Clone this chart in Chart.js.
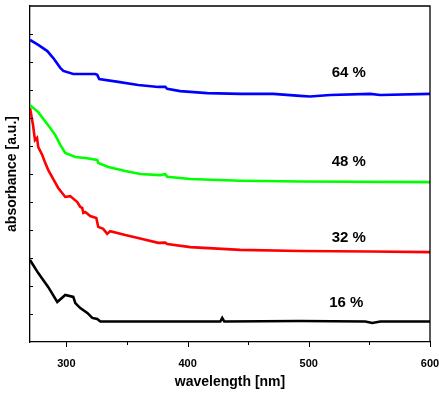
<!DOCTYPE html>
<html>
<head>
<meta charset="utf-8">
<script src="https://cdn.jsdelivr.net/npm/chart.js@4"></script>
<style>
  html, body { margin: 0; padding: 0; background: #fff; }
  canvas { display: block; }
</style>
</head>
<body>
<canvas id="myChart" width="439" height="395"></canvas>
<script>
// absorbance spectra, one array pair per sample
var nm64 = [270, 276.8, 284.3, 289.2, 295, 297.5, 305.7, 315.6, 323.8, 325.5, 327.1, 342.8, 359.3, 375.8, 381.6, 383.2, 393.9, 416.2, 443.4, 470.6, 492.9, 501, 517.7, 550.7, 559, 600];
var abs64 = [10.79, 10.61, 10.39, 10.14, 9.79, 9.68, 9.57, 9.57, 9.57, 9.54, 9.39, 9.29, 9.18, 9.11, 9.11, 9.04, 8.96, 8.89, 8.86, 8.86, 8.79, 8.77, 8.82, 8.86, 8.82, 8.86];

var nm48 = [270, 276.8, 286.7, 290.9, 295, 299.1, 307.4, 315.6, 325.5, 326.3, 334.6, 348.6, 361, 377.4, 381.6, 383.2, 402.2, 443.4, 492.9, 600];
var abs48 = [8.46, 8.21, 7.64, 7.39, 7.04, 6.75, 6.61, 6.57, 6.5, 6.39, 6.25, 6.11, 6.0, 5.96, 5.99, 5.9, 5.82, 5.76, 5.73, 5.71];

var nm32 = [270, 272.5, 274.1, 275.8, 276.8, 280.1, 282.6, 285.1, 289.2, 293.3, 299.1, 303.2, 309, 311.5, 313.1, 314, 315.6, 319.7, 324.7, 326.3, 330.4, 333.7, 336.2, 348.6, 362.6, 375.8, 381.6, 383.2, 402.2, 443.4, 492.9, 550.7, 600];
var abs32 = [8.36, 7.75, 7.21, 7.29, 6.96, 6.68, 6.39, 6.14, 5.82, 5.5, 5.18, 5.21, 5.0, 4.82, 4.79, 4.61, 4.64, 4.5, 4.43, 4.11, 4.04, 3.86, 3.96, 3.82, 3.68, 3.54, 3.55, 3.5, 3.39, 3.29, 3.25, 3.23, 3.21];

var nm16 = [270, 276.8, 285.1, 292.5, 299.1, 305.7, 307.4, 311.5, 317.3, 321.4, 325.5, 328, 348.6, 427, 428.6, 430.3, 492.9, 546.6, 552.4, 559, 600];
var abs16 = [2.93, 2.46, 1.96, 1.43, 1.68, 1.61, 1.39, 1.21, 1.04, 0.86, 0.82, 0.73, 0.73, 0.73, 0.86, 0.73, 0.75, 0.73, 0.68, 0.73, 0.73];

var seriesLabels = ['64 %', '48 %', '32 %', '16 %'];
var labelNm = [533, 533, 533, 531];
var labelAbs = [9.61, 6.43, 3.71, 1.39];

var xTicks = [300, 400, 500, 600];
var xMinorTicks = [350, 450, 550];

function pts(xs, ys) {
    return xs.map(function (x, i) { return { x: x, y: ys[i] }; });
}

function line(label, xs, ys, color) {
    return {
        label: label,
        data: pts(xs, ys),
        borderColor: color,
        backgroundColor: color,
        borderWidth: 2.6,
        pointRadius: 0,
        tension: 0,
        fill: false
    };
}

// frame, inward y ticks, outward x ticks and the % labels
var decorations = {
    id: 'decorations',
    afterDraw: function (chart) {
        var ctx = chart.ctx;
        var a = chart.chartArea;
        var xs = chart.scales.x, ys = chart.scales.y;
        ctx.save();
        ctx.strokeStyle = '#000';
        ctx.lineWidth = 1.3;
        ctx.beginPath();
        ctx.moveTo(a.left, a.top);
        ctx.lineTo(a.right, a.top);
        ctx.lineTo(a.right, a.bottom);
        ctx.stroke();

        ctx.lineWidth = 1;
        ctx.beginPath();
        xTicks.concat(xMinorTicks).forEach(function (v) {
            var px = Math.round(xs.getPixelForValue(v)) + 0.5;
            var len = xTicks.indexOf(v) >= 0 ? 5 : 3;
            ctx.moveTo(px, a.bottom);
            ctx.lineTo(px, a.bottom + len);
        });
        for (var v = 1; v < 12; v++) {
            var py = Math.round(ys.getPixelForValue(v)) + 0.5;
            ctx.moveTo(a.left, py);
            ctx.lineTo(a.left + 3, py);
        }
        ctx.stroke();

        ctx.fillStyle = '#000';
        ctx.font = 'bold 15px "Liberation Sans", Arial, sans-serif';
        ctx.textAlign = 'center';
        ctx.textBaseline = 'middle';
        seriesLabels.forEach(function (t, i) {
            ctx.fillText(t, xs.getPixelForValue(labelNm[i]), ys.getPixelForValue(labelAbs[i]));
        });
        ctx.restore();
    }
};

var ctx = document.getElementById('myChart').getContext('2d');
var chart = new Chart(ctx, {
    type: 'line',
    data: {
        datasets: [
            line('64 %', nm64, abs64, '#0000ff'),
            line('48 %', nm48, abs48, '#00ff00'),
            line('32 %', nm32, abs32, '#ff0000'),
            line('16 %', nm16, abs16, '#000000')
        ]
    },
    options: {
        responsive: false,
        animation: false,
        layout: { padding: { top: 6, right: 9, left: 0, bottom: 0 } },
        plugins: {
            legend: { display: false },
            tooltip: { enabled: false }
        },
        scales: {
            x: {
                type: 'linear',
                min: 270,
                max: 600,
                afterBuildTicks: function (scale) {
                    scale.ticks = xTicks.map(function (v) { return { value: v }; });
                },
                afterFit: function (scale) {
                    scale.height = 53;
                    scale.paddingLeft = 0;
                    scale.paddingRight = 0;
                },
                grid: { display: false },
                border: { display: true, color: '#000', width: 1.3 },
                ticks: {
                    color: '#000',
                    padding: 7,
                    maxRotation: 0,
                    font: { family: '"Liberation Sans", Arial, sans-serif', size: 11, weight: 'bold' }
                },
                title: {
                    display: true,
                    text: 'wavelength [nm]',
                    color: '#000',
                    font: { family: '"Liberation Sans", Arial, sans-serif', size: 14, weight: 'bold' }
                }
            },
            y: {
                min: 0,
                max: 12,
                afterFit: function (scale) {
                    scale.width = 30;
                    scale.paddingTop = 0;
                    scale.paddingBottom = 0;
                },
                grid: { display: false },
                border: { display: true, color: '#000', width: 1.3 },
                ticks: { display: false, stepSize: 1 },
                title: {
                    display: true,
                    text: 'absorbance [a.u.]',
                    color: '#000',
                    font: { family: '"Liberation Sans", Arial, sans-serif', size: 14, weight: 'bold' }
                }
            }
        }
    },
    plugins: [decorations]
});
</script>
</body>
</html>
